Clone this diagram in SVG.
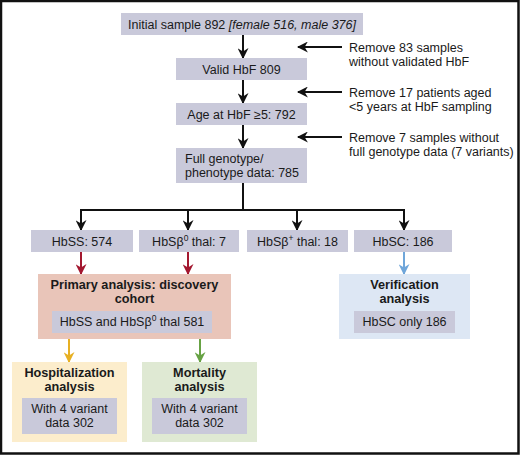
<svg xmlns="http://www.w3.org/2000/svg" width="520" height="455" viewBox="0 0 520 455">
<defs>
<style>
text{font-family:"Liberation Sans",Arial,sans-serif;font-size:12.5px;fill:#1a1a1a}
.b{font-weight:bold;font-size:12.7px}
.c{text-anchor:middle}
.g{fill:#c9c9da}
.k{stroke:#111;stroke-width:2;fill:none}
</style>
<marker id="ak" viewBox="0 0 10 10" refX="9" refY="5" markerWidth="5.5" markerHeight="5.5" orient="auto" markerUnits="strokeWidth"><path d="M0,0 L10,5 L0,10 L3,5 z" fill="#111"/></marker>
<marker id="ar" viewBox="0 0 10 10" refX="9" refY="5" markerWidth="5.5" markerHeight="5.5" orient="auto" markerUnits="strokeWidth"><path d="M0,0 L10,5 L0,10 L3,5 z" fill="#a3172f"/></marker>
<marker id="ab" viewBox="0 0 10 10" refX="9" refY="5" markerWidth="5.5" markerHeight="5.5" orient="auto" markerUnits="strokeWidth"><path d="M0,0 L10,5 L0,10 L3,5 z" fill="#6fa6da"/></marker>
<marker id="ay" viewBox="0 0 10 10" refX="9" refY="5" markerWidth="5.5" markerHeight="5.5" orient="auto" markerUnits="strokeWidth"><path d="M0,0 L10,5 L0,10 L3,5 z" fill="#e7b023"/></marker>
<marker id="ag" viewBox="0 0 10 10" refX="9" refY="5" markerWidth="5.5" markerHeight="5.5" orient="auto" markerUnits="strokeWidth"><path d="M0,0 L10,5 L0,10 L3,5 z" fill="#67a244"/></marker>
</defs>
<rect x="0" y="0" width="520" height="455" fill="#fff"/>
<rect x="1" y="1" width="517.5" height="452.5" fill="none" stroke="#111" stroke-width="2.5"/>

<g id="connectors">
<line class="k" x1="243" y1="35" x2="243" y2="58" marker-end="url(#ak)"/>
<line class="k" x1="243" y1="80" x2="243" y2="103" marker-end="url(#ak)"/>
<line class="k" x1="243" y1="125" x2="243" y2="148" marker-end="url(#ak)"/>
<line class="k" x1="342" y1="47" x2="298" y2="47" marker-end="url(#ak)"/>
<line class="k" x1="342" y1="92" x2="298" y2="92" marker-end="url(#ak)"/>
<line class="k" x1="342" y1="137" x2="298" y2="137" marker-end="url(#ak)"/>
<path class="k" d="M243,183 V210 M80,210 H405"/>
<line class="k" x1="81" y1="209" x2="81" y2="230" marker-end="url(#ak)"/>
<line class="k" x1="188" y1="209" x2="188" y2="230" marker-end="url(#ak)"/>
<line class="k" x1="297" y1="209" x2="297" y2="230" marker-end="url(#ak)"/>
<line class="k" x1="404" y1="209" x2="404" y2="230" marker-end="url(#ak)"/>
<line x1="81" y1="252" x2="81" y2="274" stroke="#a3172f" stroke-width="2" marker-end="url(#ar)"/>
<line x1="188" y1="252" x2="188" y2="274" stroke="#a3172f" stroke-width="2" marker-end="url(#ar)"/>
<line x1="404" y1="252" x2="404" y2="274" stroke="#6fa6da" stroke-width="2" marker-end="url(#ab)"/>
<line x1="69" y1="339" x2="69" y2="362" stroke="#e7b023" stroke-width="2" marker-end="url(#ay)"/>
<line x1="200" y1="339" x2="200" y2="362" stroke="#67a244" stroke-width="2" marker-end="url(#ag)"/>
</g>

<g id="initial">
<rect class="g" x="121" y="13" width="242" height="22"/>
<text x="242" y="29" class="c">Initial sample 892 <tspan font-style="italic">[female 516, male 376]</tspan></text>
</g>
<g id="valid">
<rect class="g" x="176" y="58" width="131" height="22"/>
<text x="241.5" y="74" class="c">Valid HbF 809</text>
</g>
<g id="age">
<rect class="g" x="176" y="103" width="131" height="22"/>
<text x="241.5" y="119" class="c">Age at HbF ≥5: 792</text>
</g>
<g id="full">
<rect class="g" x="176" y="148" width="131" height="35"/>
<text x="185" y="163">Full genotype/</text>
<text x="185" y="177">phenotype data: 785</text>
</g>
<g id="note1">
<text x="349" y="52">Remove 83 samples</text>
<text x="349" y="66">without validated HbF</text>
</g>
<g id="note2">
<text x="349" y="97">Remove 17 patients aged</text>
<text x="349" y="111">&lt;5 years at HbF sampling</text>
</g>
<g id="note3">
<text x="349" y="142">Remove 7 samples without</text>
<text x="349" y="156">full genotype data (7 variants)</text>
</g>
<g id="hbss">
<rect class="g" x="31" y="230" width="102" height="22"/>
<text x="82" y="246" class="c">HbSS: 574</text>
</g>
<g id="hbsb0">
<rect class="g" x="139" y="230" width="100" height="22"/>
<text x="189" y="246" class="c">HbSβ<tspan font-size="8.5" dy="-5">0</tspan><tspan dy="5"> thal: 7</tspan></text>
</g>
<g id="hbsbplus">
<rect class="g" x="247" y="230" width="101" height="22"/>
<text x="297.5" y="246" class="c">HbSβ<tspan font-size="8.5" dy="-5">+</tspan><tspan dy="5"> thal: 18</tspan></text>
</g>
<g id="hbsc">
<rect class="g" x="354" y="230" width="98" height="22"/>
<text x="403" y="246" class="c">HbSC: 186</text>
</g>
<g id="primary">
<rect x="38" y="274" width="193" height="65" fill="#e9c5b9"/>
<text x="134.5" y="289" class="c b">Primary analysis: discovery</text>
<text x="134.5" y="303" class="c b">cohort</text>
<rect class="g" x="52" y="311" width="160" height="22"/>
<text x="132" y="326" class="c">HbSS and HbSβ<tspan font-size="8.5" dy="-5">0</tspan><tspan dy="5"> thal 581</tspan></text>
</g>
<g id="verification">
<rect x="339" y="274" width="131" height="65" fill="#dde7f4"/>
<text x="404.5" y="289" class="c b">Verification</text>
<text x="404.5" y="303" class="c b">analysis</text>
<rect class="g" x="354" y="311" width="101" height="22"/>
<text x="404.5" y="326" class="c">HbSC only 186</text>
</g>
<g id="hospitalization">
<rect x="12" y="362" width="115" height="80" fill="#fcedcc"/>
<text x="69.5" y="377" class="c b">Hospitalization</text>
<text x="69.5" y="391" class="c b">analysis</text>
<rect class="g" x="22" y="398" width="95" height="36"/>
<text x="69.5" y="413" class="c">With 4 variant</text>
<text x="69.5" y="427" class="c">data 302</text>
</g>
<g id="mortality">
<rect x="142" y="362" width="115" height="80" fill="#dfe9d3"/>
<text x="199.5" y="377" class="c b">Mortality</text>
<text x="199.5" y="391" class="c b">analysis</text>
<rect class="g" x="152" y="398" width="95" height="36"/>
<text x="199.5" y="413" class="c">With 4 variant</text>
<text x="199.5" y="427" class="c">data 302</text>
</g>
</svg>
